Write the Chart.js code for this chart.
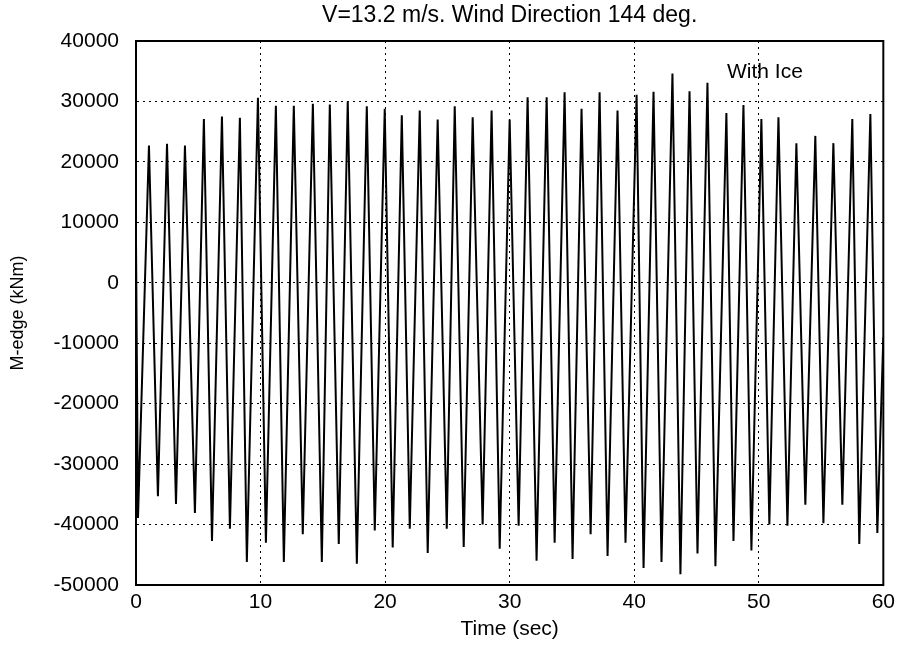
<!DOCTYPE html>
<html>
<head>
<meta charset="utf-8">
<script src="https://cdn.jsdelivr.net/npm/chart.js@4/dist/chart.umd.min.js"></script>
<style>
  html, body { margin: 0; padding: 0; background: #fff; }
  #wrap { width: 900px; height: 647px; }
</style>
</head>
<body>
<div id="wrap"><canvas id="chart"></canvas></div>
<script>
// time (sec) of each turning point
const timeSec = [0, 0.16, 1.04, 1.76, 2.49, 3.21, 3.93, 4.73, 5.45, 6.10, 6.90, 7.54, 8.34, 8.90, 9.79,
  10.43, 11.23, 11.87, 12.67, 13.39, 14.20, 14.92, 15.56, 16.28, 17.00, 17.73, 18.53, 19.17, 19.97,
  20.61, 21.34, 21.98, 22.78, 23.42, 24.22, 24.95, 25.59, 26.31, 27.03, 27.83, 28.55, 29.20, 30.00,
  30.72, 31.44, 32.16, 32.97, 33.61, 34.41, 35.05, 35.77, 36.50, 37.22, 37.86, 38.66, 39.30, 40.19,
  40.75, 41.55, 42.19, 43.07, 43.71, 44.44, 45.08, 45.88, 46.52, 47.40, 47.97, 48.77, 49.41, 50.21,
  50.85, 51.58, 52.30, 53.02, 53.74, 54.54, 55.19, 55.99, 56.71, 57.51, 58.07, 58.96, 59.52, 60];

// M-edge (kNm) at those times
const edgeMoment = [7000, -38900, 22700, -35300, 23000, -36600, 22700, -38100, 27100, -42700, 27500, -40700, 27300, -46200, 30600,
  -43000, 29300, -46200, 29300, -41600, 29600, -46200, 29500, -43200, 30000, -46500, 29200, -41000, 28800,
  -43800, 27700, -40700, 28500, -44700, 27000, -40700, 29200, -43700, 27400, -40000, 28500, -44000, 27000,
  -40200, 30700, -46000, 30700, -43000, 31500, -45700, 28800, -41600, 31500, -45200, 28500, -43000, 31100,
  -47200, 31600, -46200, 34600, -48200, 31700, -44800, 33100, -46900, 28100, -42700, 29400, -44300, 27100,
  -40000, 27400, -40200, 23100, -36700, 24300, -39800, 23100, -36700, 27100, -43200, 27900, -41400, -9000];

const xTicks = [0, 10, 20, 30, 40, 50, 60];
const yTicks = [-50000, -40000, -30000, -20000, -10000, 0, 10000, 20000, 30000, 40000];

const points = timeSec.map((t, i) => ({ x: t, y: edgeMoment[i] }));

// box round the plot and the "With Ice" note
const framePlugin = {
  id: 'frame',
  afterDraw(chart) {
    const { ctx, chartArea: a } = chart;
    ctx.save();
    ctx.strokeStyle = '#000';
    ctx.lineWidth = 2;
    ctx.strokeRect(a.left, a.top, a.right - a.left, a.bottom - a.top);
    ctx.fillStyle = '#000';
    ctx.font = '21px "Liberation Sans", Arial, sans-serif';
    ctx.textBaseline = 'middle';
    ctx.fillText('With Ice', a.left + 591, a.top + 31);
    ctx.restore();
  }
};

const family = '"Liberation Sans", Arial, sans-serif';
const tickFont = { family: family, size: 21 };
const plain = v => String(v);

new Chart(document.getElementById('chart'), {
  type: 'line',
  data: {
    datasets: [{
      data: points,
      borderColor: '#000',
      borderWidth: 2,
      pointRadius: 0,
      tension: 0
    }]
  },
  options: {
    responsive: true,
    maintainAspectRatio: false,
    animation: false,
    layout: { padding: { left: 0, right: 16, top: 0, bottom: 0 } },
    plugins: {
      legend: { display: false },
      tooltip: { enabled: false },
      title: {
        display: true,
        fullSize: false,
        text: 'V=13.2 m/s. Wind Direction 144 deg.',
        color: '#000',
        font: { family: family, size: 23, weight: 'normal' },
        padding: { top: 2, bottom: 11.4 }
      }
    },
    scales: {
      x: {
        type: 'linear',
        min: 0,
        max: 60,
        afterBuildTicks: s => { s.ticks = xTicks.map(v => ({ value: v })); },
        afterFit: s => { s.height = 62; },
        ticks: { color: '#000', font: tickFont, padding: 5, maxRotation: 0, callback: plain },
        grid: { color: '#000', lineWidth: 1, drawTicks: false },
        border: { display: true, color: '#000', width: 2, dash: [2, 4] },
        title: { display: true, text: 'Time (sec)', color: '#000', font: tickFont, padding: { bottom: 5 } }
      },
      y: {
        min: -50000,
        max: 40000,
        afterBuildTicks: s => { s.ticks = yTicks.map(v => ({ value: v })); },
        afterFit: s => { s.width = 136; },
        ticks: { color: '#000', font: tickFont, padding: 17, callback: plain },
        grid: { color: '#000', lineWidth: 1, drawTicks: false },
        border: { display: true, color: '#000', width: 2, dash: [2, 4] },
        title: { display: true, text: 'M-edge (kNm)', color: '#000', font: { family: family, size: 18 }, padding: { top: 7 } }
      }
    }
  },
  plugins: [framePlugin]
});
</script>
</body>
</html>
